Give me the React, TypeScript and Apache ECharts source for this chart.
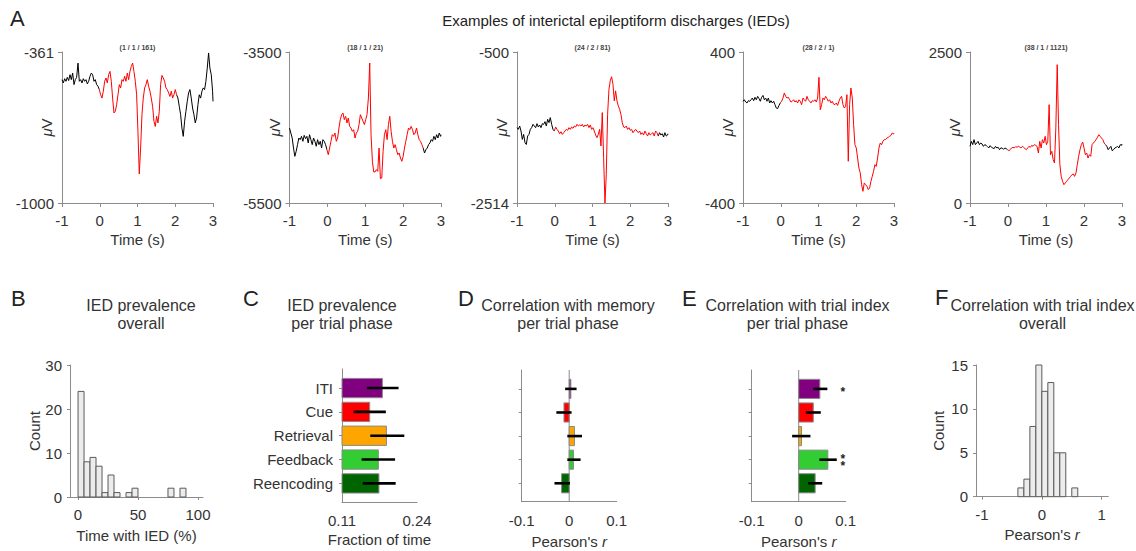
import { useEffect, useRef } from 'react';
import * as echarts from 'echarts';

// ---- Panel A: example IED traces (time in s, amplitude in µV) ----
const TIME = [
  -1.0, -0.965, -0.929, -0.894, -0.859, -0.824, -0.788, -0.753, -0.718, -0.682,
  -0.647, -0.612, -0.576, -0.541, -0.506, -0.471, -0.435, -0.4, -0.365, -0.329,
  -0.294, -0.259, -0.223, -0.188, -0.153, -0.118, -0.082, -0.047, -0.012, 0.024,
  0.059, 0.094, 0.13, 0.165, 0.2, 0.236, 0.271, 0.306, 0.341, 0.377,
  0.412, 0.447, 0.483, 0.518, 0.553, 0.589, 0.624, 0.659, 0.694, 0.73,
  0.765, 0.8, 0.836, 0.871, 0.906, 0.942, 0.977, 1.012, 1.047, 1.083,
  1.118, 1.153, 1.189, 1.224, 1.259, 1.295, 1.33, 1.365, 1.4, 1.436,
  1.471, 1.506, 1.542, 1.577, 1.612, 1.648, 1.683, 1.718, 1.753, 1.789,
  1.824, 1.859, 1.895, 1.93, 1.965, 2.001, 2.036, 2.071, 2.106, 2.142,
  2.177, 2.212, 2.248, 2.283, 2.318, 2.354, 2.389, 2.424, 2.459, 2.495,
  2.53, 2.565, 2.601, 2.636, 2.671, 2.707, 2.742, 2.777, 2.812, 2.848,
  2.883, 2.918, 2.954, 2.989, 3.0,
];

const IED_1 = [
  -478, -492, -474, -485, -468, -482, -457, -478, -450, -499,
  -478, -468, -408, -485, -478, -492, -474, -485, -478, -496,
  -485, -464, -450, -457, -485, -478, -499, -506, -520, -542,
  -556, -527, -485, -471, -492, -457, -443, -485, -556, -619,
  -612, -584, -542, -499, -513, -478, -485, -464, -485, -450,
  -478, -443, -422, -408, -443, -485, -542, -697, -877, -767,
  -626, -556, -513, -499, -478, -506, -527, -556, -591, -654,
  -676, -633, -661, -612, -499, -460, -471, -485, -513, -520,
  -534, -549, -527, -556, -542, -520, -542, -556, -591, -626,
  -683, -718, -654, -612, -570, -534, -520, -556, -598, -626,
  -661, -640, -584, -542, -556, -527, -513, -520, -485, -429,
  -365, -429, -457, -527, -570,
];

const IED_2 = [
  -4507, -4573, -4639, -4772, -4882, -4816, -4727, -4639, -4661, -4617,
  -4683, -4604, -4648, -4617, -4705, -4595, -4661, -4727, -4639, -4683,
  -4749, -4661, -4727, -4683, -4772, -4661, -4683, -4727, -4794, -4860,
  -4772, -4683, -4595, -4617, -4573, -4683, -4639, -4507, -4396, -4330,
  -4308, -4396, -4352, -4440, -4374, -4485, -4507, -4551, -4529, -4639,
  -4573, -4551, -4462, -4330, -4374, -4418, -4462, -4396, -4330, -4109,
  -3646, -4595, -4948, -5089, -5089, -5058, -5081, -4772, -5178, -5169,
  -4816, -4595, -4529, -4661, -4462, -4352, -4551, -4683, -4772, -4727,
  -4794, -4860, -4838, -4904, -4948, -4882, -4772, -4683, -4595, -4507,
  -4529, -4485, -4529, -4595, -4573, -4507, -4595, -4661, -4683, -4727,
  -4772, -4838, -4794, -4772, -4727, -4705, -4661, -4683, -4617, -4661,
  -4595, -4639, -4573, -4617, -4595,
];

const IED_3 = [
  -1509, -1532, -1487, -1554, -1666, -1599, -1710, -1733, -1621, -1599,
  -1532, -1509, -1465, -1487, -1509, -1456, -1500, -1474, -1509, -1456,
  -1465, -1429, -1487, -1398, -1442, -1375, -1465, -1532, -1554, -1500,
  -1532, -1554, -1590, -1563, -1599, -1576, -1554, -1532, -1545, -1509,
  -1532, -1500, -1518, -1487, -1500, -1465, -1487, -1474, -1487, -1465,
  -1500, -1474, -1487, -1465, -1509, -1474, -1532, -1509, -1554, -1607,
  -1643, -1599, -1532, -1754, -1308, -1911, -2514, -2134, -1331, -996,
  -884, -830, -929, -1152, -1018, -1152, -1219, -1264, -1331, -1442,
  -1500, -1509, -1487, -1532, -1509, -1545, -1532, -1576, -1554, -1532,
  -1554, -1576, -1554, -1599, -1576, -1607, -1554, -1590, -1621, -1576,
  -1607, -1590, -1576, -1621, -1554, -1576, -1621, -1576, -1607, -1590,
  -1634, -1576, -1621, -1607, -1590,
];

const IED_4 = [
  139, 147, 135, 130, 142, 139, 147, 156, 142, 160,
  147, 165, 153, 139, 160, 170, 147, 156, 139, 156,
  130, 142, 130, 139, 121, 103, 100, 117, 130, 139,
  156, 183, 165, 156, 160, 147, 135, 139, 147, 135,
  142, 130, 147, 139, 121, 156, 147, 139, 165, 147,
  139, 130, 142, 139, 147, 135, 156, 266, 94, 121,
  156, 147, 165, 153, 139, 147, 130, 139, 124, 121,
  130, 117, 139, 156, 165, 121, 103, 112, 174, -179,
  121, 209, 156, 15, -91, -109, -162, -215, -241, -303,
  -338, -294, -303, -312, -329, -321, -285, -259, -232, -197,
  -206, -162, -109, -82, -91, -73, -64, -64, -56, -52,
  -47, -42, -29, -34, -29,
];

const IED_5 = [
  938, 1021, 966, 1049, 966, 993, 1021, 966, 993, 977,
  938, 966, 955, 933, 911, 949, 922, 911, 900, 938,
  911, 922, 883, 911, 911, 888, 911, 900, 883, 866,
  883, 911, 922, 911, 933, 922, 938, 927, 911, 938,
  922, 900, 883, 911, 938, 922, 955, 938, 966, 955,
  938, 828, 1021, 911, 1049, 993, 1104, 966, 1021, 1628,
  800, 855, 717, 662, 1242, 2290, 1297, 635, 441, 359,
  303, 331, 359, 386, 414, 441, 469, 480, 441, 497,
  635, 773, 883, 966, 1010, 911, 800, 828, 745, 800,
  773, 966, 993, 1021, 1049, 1087, 1131, 1104, 1076, 1049,
  993, 966, 938, 883, 911, 938, 866, 883, 911, 922,
  938, 911, 966, 955, 977,
];

const TRACES = [IED_1, IED_2, IED_3, IED_4, IED_5];
const TRACE_IDS = ['(1 / 1 / 161)', '(18 / 1 / 21)', '(24 / 2 / 81)', '(28 / 2 / 1)', '(38 / 1 / 1121)'];
const TRACE_Y_RANGE = [
  [-1000, -361],
  [-5500, -3500],
  [-2514, -500],
  [-400, 400],
  [0, 2500],
];
// IED windows (s), drawn in red
const IED_WINDOWS = [
  [-0.015, 2.04],
  [-0.015, 2.53],
  [-0.015, 2.745],
  [-0.015, 3.0],
  [-0.015, 2.57],
];

// ---- Panels C-E: per trial phase ----
const PHASES = ['ITI', 'Cue', 'Retrieval', 'Feedback', 'Reencoding'];
const PHASE_COLORS = ['#800080', '#ff0000', '#ffa500', '#32cd32', '#006400'];

const PREV_MEAN = [0.18, 0.158, 0.187, 0.173, 0.174];
const PREV_LO = [0.153, 0.13, 0.159, 0.144, 0.146];
const PREV_HI = [0.208, 0.186, 0.218, 0.202, 0.203];

const MEM_R = [0.0035, -0.011, 0.011, 0.009, -0.016];
const MEM_LO = [-0.0085, -0.027, -0.004, -0.004, -0.031];
const MEM_HI = [0.0155, 0.005, 0.027, 0.024, 0.0015];

const IDX_R = [0.045, 0.031, 0.006, 0.062, 0.035];
const IDX_LO = [0.031, 0.015, -0.014, 0.044, 0.02];
const IDX_HI = [0.061, 0.047, 0.025, 0.081, 0.05];
const IDX_SIG = ['*', '', '', '**', ''];

// ---- Panel B: histogram of time with IED (%) ----
const PREV_BIN_LEFT = [0, 5, 10, 15, 20, 25, 30, 40, 45, 75, 85];
const PREV_BIN_COUNT = [24, 8, 9, 7, 1, 5, 1, 1, 2, 2, 2];
const PREV_BIN_WIDTH = 5;

// ---- Panel F: histogram of Pearson's r ----
const R_BIN_LEFT = [-0.4, -0.3, -0.2, -0.1, 0, 0.1, 0.2, 0.3, 0.5];
const R_BIN_COUNT = [1, 2, 8, 15, 12, 13, 5, 5, 1];
const R_BIN_WIDTH = 0.1;

const FONT = '"Liberation Sans", Arial, Helvetica, sans-serif';
const TEXT = '#333333';
const AXIS = '#8c8c8c';

const TRACE_BOXES = [
  { left: 62, width: 151 },
  { left: 289.5, width: 151.5 },
  { left: 517, width: 151 },
  { left: 743, width: 151 },
  { left: 970, width: 152 },
];

function buildOption() {
  const grid: any[] = [];
  const xAxis: any[] = [];
  const yAxis: any[] = [];
  const series: any[] = [];
  const graphic: any[] = [];

  const label = { color: TEXT, fontSize: 15, fontFamily: FONT };
  const axisLine = { show: true, onZero: false, lineStyle: { color: AXIS, width: 1 } };
  const tick = (length: number, extra: any = {}) => ({
    show: true,
    length,
    lineStyle: { color: AXIS, width: 1 },
    ...extra,
  });
  const nameStyle = {
    ...label,
    rich: { i: { ...label, fontStyle: 'italic' } },
  };
  const plain = (v: number) => String(v);

  const text = (t: string, x: number, y: number, size: number, extra: any = {}) => ({
    type: 'text',
    x,
    y,
    silent: true,
    style: {
      text: t,
      fontSize: size,
      fontFamily: FONT,
      fill: TEXT,
      align: 'center',
      verticalAlign: 'middle',
      textAlign: 'center',
      textVerticalAlign: 'middle',
      lineHeight: 18,
      ...extra,
    },
  });

  // ---------- Panel A ----------
  TRACES.forEach((vals, i) => {
    const box = TRACE_BOXES[i];
    grid.push({ left: box.left, top: 52, width: box.width, height: 151, containLabel: false, outerBoundsMode: 'none' });
    xAxis.push({
      type: 'value', gridIndex: i, min: -1, max: 3, interval: 1,
      axisLine, axisTick: tick(4), axisLabel: { ...label, margin: 10, formatter: plain },
      splitLine: { show: false },
      name: 'Time (s)', nameLocation: 'middle', nameGap: 29, nameMoveOverlap: false, nameTextStyle: nameStyle,
    });
    const [lo, hi] = TRACE_Y_RANGE[i];
    yAxis.push({
      type: 'value', gridIndex: i, min: lo, max: hi,
      axisLine,
      axisTick: tick(4, { customValues: [lo, hi] }),
      axisLabel: { ...label, margin: 8, customValues: [lo, hi], formatter: plain },
      splitLine: { show: false },
      name: '{i|μ}V', nameLocation: 'middle', nameGap: 8, nameMoveOverlap: false, nameTextStyle: nameStyle,
    });

    const [w0, w1] = IED_WINDOWS[i];
    const redIdx = TIME.map((t, k) => (t >= w0 && t <= w1 ? k : -1)).filter((k) => k >= 0);
    const first = redIdx[0];
    const last = redIdx[redIdx.length - 1];
    series.push({
      type: 'line', xAxisIndex: i, yAxisIndex: i, showSymbol: false, symbol: 'none',
      connectNulls: false, silent: true,
      lineStyle: { color: '#000000', width: 1 },
      data: TIME.map((t, k) => [t, k > first && k < last ? null : vals[k]]),
    });
    series.push({
      type: 'line', xAxisIndex: i, yAxisIndex: i, showSymbol: false, symbol: 'none', silent: true,
      lineStyle: { color: '#ff0000', width: 1 },
      data: redIdx.map((k) => [TIME[k], vals[k]]),
    });
    graphic.push(text(TRACE_IDS[i], box.left + box.width / 2, 47, 7, { fontWeight: 'bold', fill: '#444' }));
  });

  // ---------- helpers for bottom panels ----------
  const histSeries = (axis: number, lefts: number[], counts: number[], width: number) => ({
    type: 'custom', coordinateSystem: 'cartesian2d', xAxisIndex: axis, yAxisIndex: axis, silent: true,
    data: lefts.map((l, k) => [l, l + width, counts[k]]),
    renderItem: (_p: any, api: any) => {
      const a = api.coord([api.value(0), api.value(2)]);
      const b = api.coord([api.value(1), 0]);
      return {
        type: 'rect',
        shape: { x: a[0], y: a[1], width: b[0] - a[0], height: b[1] - a[1] },
        style: { fill: '#ececec', stroke: '#5a5a5a', lineWidth: 1 },
      };
    },
  });

  const barSeries = (axis: number, base: number, vals: number[]) => ({
    type: 'custom', coordinateSystem: 'cartesian2d', xAxisIndex: axis, yAxisIndex: axis, silent: true,
    data: vals.map((v, k) => [v, k]),
    renderItem: (p: any, api: any) => {
      const a = api.coord([base, api.value(1)]);
      const b = api.coord([api.value(0), api.value(1)]);
      const h = api.size([0, 0.81])[1];
      return {
        type: 'rect',
        shape: { x: Math.min(a[0], b[0]), y: a[1] - h / 2, width: Math.abs(b[0] - a[0]), height: h },
        style: { fill: PHASE_COLORS[p.dataIndex], stroke: '#8a8a8a', lineWidth: 1 },
      };
    },
  });

  const errSeries = (axis: number, lo: number[], hi: number[]) => ({
    type: 'custom', coordinateSystem: 'cartesian2d', xAxisIndex: axis, yAxisIndex: axis, silent: true,
    data: lo.map((l, k) => [l, hi[k], k]),
    renderItem: (_p: any, api: any) => {
      const a = api.coord([api.value(0), api.value(2)]);
      const b = api.coord([api.value(1), api.value(2)]);
      return {
        type: 'line',
        shape: { x1: a[0], y1: a[1], x2: b[0], y2: b[1] },
        style: { stroke: '#000000', lineWidth: 2.6 },
      };
    },
  });

  const zeroLine = (axis: number) => ({
    type: 'custom', coordinateSystem: 'cartesian2d', xAxisIndex: axis, yAxisIndex: axis, silent: true,
    data: [[0, 0]],
    renderItem: (p: any, api: any) => {
      const x = api.coord([0, 0])[0];
      const cs = p.coordSys;
      return {
        type: 'line',
        shape: { x1: x, y1: cs.y, x2: x, y2: cs.y + cs.height },
        style: { stroke: AXIS, lineWidth: 1 },
      };
    },
  });

  const phaseAxis = (axis: number, showLabels: boolean) => ({
    type: 'value', gridIndex: axis, min: -0.8, max: 4.78, inverse: true,
    axisLine,
    axisTick: tick(3, { customValues: [0, 1, 2, 3, 4] }),
    axisLabel: {
      ...label, show: showLabels, margin: 9, customValues: [0, 1, 2, 3, 4],
      formatter: (v: number) => PHASES[Math.round(v)] ?? '',
    },
    splitLine: { show: false },
  });

  const rFormatter = (v: number) => (Math.abs(v) < 1e-9 ? '0' : String(Number(v.toFixed(2))));

  // ---------- Panel B ----------
  grid.push({ left: 70, top: 365, width: 133, height: 132, containLabel: false, outerBoundsMode: 'none' });
  xAxis.push({
    type: 'value', gridIndex: 5, min: -6.7, max: 104.2,
    axisLine, axisTick: tick(3, { customValues: [0, 50, 100] }),
    axisLabel: { ...label, margin: 10, customValues: [0, 50, 100], formatter: plain },
    splitLine: { show: false },
    name: 'Time with IED (%)', nameLocation: 'middle', nameGap: 31, nameMoveOverlap: false, nameTextStyle: nameStyle,
  });
  yAxis.push({
    type: 'value', gridIndex: 5, min: 0, max: 30, interval: 10,
    axisLine, axisTick: tick(3), axisLabel: { ...label, margin: 8, formatter: plain },
    splitLine: { show: false },
    name: 'Count', nameLocation: 'middle', nameGap: 28, nameMoveOverlap: false, nameTextStyle: nameStyle,
  });
  series.push(histSeries(5, PREV_BIN_LEFT, PREV_BIN_COUNT, PREV_BIN_WIDTH));

  // ---------- Panel C ----------
  grid.push({ left: 342, top: 369, width: 75, height: 133, containLabel: false, outerBoundsMode: 'none' });
  xAxis.push({
    type: 'value', gridIndex: 6, min: 0.11, max: 0.24,
    axisLine, axisTick: { show: false },
    axisLabel: { ...label, margin: 11, customValues: [0.11, 0.24], formatter: (v: number) => v.toFixed(2) },
    splitLine: { show: false },
    name: 'Fraction of time', nameLocation: 'middle', nameGap: 30, nameMoveOverlap: false, nameTextStyle: nameStyle,
  });
  yAxis.push(phaseAxis(6, true));
  series.push(barSeries(6, 0.11, PREV_MEAN));
  series.push(errSeries(6, PREV_LO, PREV_HI));

  // ---------- Panel D ----------
  grid.push({ left: 521.7, top: 370, width: 95, height: 131.7, containLabel: false, outerBoundsMode: 'none' });
  xAxis.push({
    type: 'value', gridIndex: 7, min: -0.1, max: 0.1,
    axisLine, axisTick: { show: false },
    axisLabel: { ...label, margin: 11, customValues: [-0.1, 0, 0.1], formatter: rFormatter },
    splitLine: { show: false },
    name: "Pearson's {i|r}", nameLocation: 'middle', nameGap: 32, nameMoveOverlap: false, nameTextStyle: nameStyle,
  });
  yAxis.push(phaseAxis(7, false));
  series.push(zeroLine(7));
  series.push(barSeries(7, 0, MEM_R));
  series.push(errSeries(7, MEM_LO, MEM_HI));

  // ---------- Panel E ----------
  grid.push({ left: 751.7, top: 370, width: 94, height: 131.7, containLabel: false, outerBoundsMode: 'none' });
  xAxis.push({
    type: 'value', gridIndex: 8, min: -0.1, max: 0.1,
    axisLine, axisTick: { show: false },
    axisLabel: { ...label, margin: 11, customValues: [-0.1, 0, 0.1], formatter: rFormatter },
    splitLine: { show: false },
    name: "Pearson's {i|r}", nameLocation: 'middle', nameGap: 32, nameMoveOverlap: false, nameTextStyle: nameStyle,
  });
  yAxis.push(phaseAxis(8, false));
  series.push(zeroLine(8));
  series.push(barSeries(8, 0, IDX_R));
  series.push(errSeries(8, IDX_LO, IDX_HI));
  // significance stars, one mark per star, stacked vertically
  series.push({
    type: 'custom', coordinateSystem: 'cartesian2d', xAxisIndex: 8, yAxisIndex: 8, silent: true,
    data: IDX_SIG.map((_s, k) => [0.094, k]).filter((_d, k) => IDX_SIG[k] !== ''),
    renderItem: (_p: any, api: any) => {
      const k = api.value(1);
      const c = api.coord([api.value(0), k]);
      const n = IDX_SIG[k].length;
      return {
        type: 'group',
        children: IDX_SIG[k].split('').map((s, j) => ({
          type: 'text',
          x: c[0],
          y: c[1] + 3 + (j - (n - 1) / 2) * 7.6,
          style: {
            text: s,
            fontSize: 12,
            fontFamily: FONT,
            fontWeight: 'bold',
            fill: '#222',
            align: 'center',
            verticalAlign: 'middle',
            lineHeight: 7,
          },
        })),
      };
    },
  });

  // ---------- Panel F ----------
  grid.push({ left: 976, top: 365, width: 132.3, height: 131.7, containLabel: false, outerBoundsMode: 'none' });
  xAxis.push({
    type: 'value', gridIndex: 9, min: -1.1, max: 1.11,
    axisLine, axisTick: tick(3, { customValues: [-1, 0, 1] }),
    axisLabel: { ...label, margin: 10, customValues: [-1, 0, 1], formatter: plain },
    splitLine: { show: false },
    name: "Pearson's {i|r}", nameLocation: 'middle', nameGap: 30, nameMoveOverlap: false, nameTextStyle: nameStyle,
  });
  yAxis.push({
    type: 'value', gridIndex: 9, min: 0, max: 15, interval: 5,
    axisLine, axisTick: tick(3), axisLabel: { ...label, margin: 8, formatter: plain },
    splitLine: { show: false },
    name: 'Count', nameLocation: 'middle', nameGap: 30, nameMoveOverlap: false, nameTextStyle: nameStyle,
  });
  series.push(histSeries(9, R_BIN_LEFT, R_BIN_COUNT, R_BIN_WIDTH));

  // ---------- titles and panel letters ----------
  graphic.push(text('Examples of interictal epileptiform discharges (IEDs)', 616, 20, 15, { fill: '#222' }));
  const letters: [string, number, number][] = [
    ['A', 10, 18], ['B', 11, 298], ['C', 243, 298], ['D', 458, 298], ['E', 682, 298], ['F', 935, 297],
  ];
  letters.forEach(([t, x, y]) =>
    graphic.push(text(t, x, y, 22, { align: 'left', textAlign: 'left', fill: '#222' })),
  );
  graphic.push(text('IED prevalence\noverall', 141, 314, 16));
  graphic.push(text('IED prevalence\nper trial phase', 342, 314, 16));
  graphic.push(text('Correlation with memory\nper trial phase', 568, 314, 16));
  graphic.push(text('Correlation with trial index\nper trial phase', 797.5, 314, 16));
  graphic.push(text('Correlation with trial index\noverall', 1042.5, 314, 16));

  return {
    animation: false,
    backgroundColor: '#ffffff',
    textStyle: { fontFamily: FONT },
    grid,
    xAxis,
    yAxis,
    series,
    graphic: { elements: graphic },
  };
}

export default function App() {
  const ref = useRef<HTMLDivElement>(null);
  useEffect(() => {
    if (!ref.current) return;
    const chart = echarts.init(ref.current, null, { renderer: 'svg' });
    chart.setOption(buildOption() as any);
    return () => chart.dispose();
  }, []);
  return (
    <div
      ref={ref}
      style={{ position: 'absolute', left: 0, top: 0, width: 1136, height: 551, background: '#fff' }}
    />
  );
}
